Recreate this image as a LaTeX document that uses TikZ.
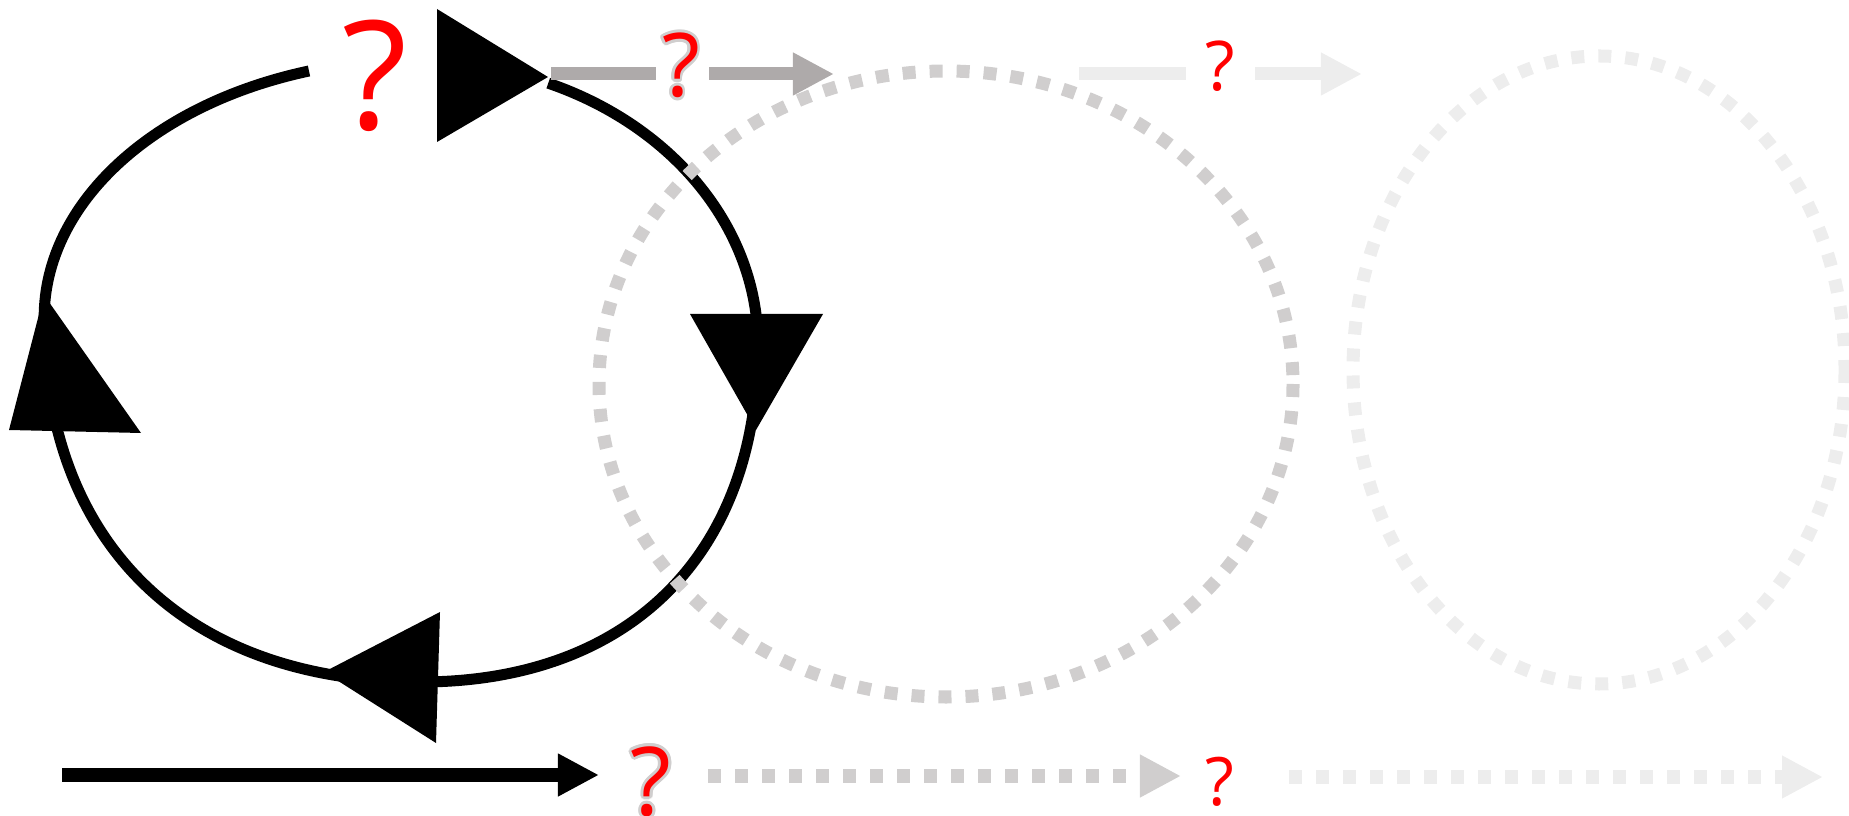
\documentclass[tikz,border=0pt]{standalone}
\usepackage{fontspec}
\newfontfamily\qfont{Open Sans}
\usepackage{xcolor}
\usepackage{contour}
\usetikzlibrary{arrows.meta}
\definecolor{grayA}{HTML}{AEAAAA}
\definecolor{grayB}{HTML}{D0CECE}
\definecolor{grayC}{HTML}{EDEDED}
\contourlength{0.8pt}
\tikzset{
  ring/.style={line width=0.11cm},
  dotring/.style={line width=0.13cm, dash pattern=on 0.13cm off 0.14cm},
  flow/.style={line width=0.13cm, -{Triangle[length=0.41cm,width=0.4cm]}},
  dotflow/.style={flow, dash pattern=on 0.13cm off 0.14cm},
  qmark/.style={text=red, inner sep=0pt, font=\qfont\fontsize{#1}{#1}\selectfont},
}

\begin{document}
\begin{tikzpicture}[x=0.01cm,y=-0.01cm]
  \useasboundingbox (0,0) rectangle (1849,816);
  % black cycle
  \coordinate (r0) at (309,71);
  \draw[ring] (r0) arc[start angle=-107.2, end angle=-180, x radius=376, y radius=258]
    .. controls (44,544) and (187,682) .. (420,682)
    .. controls (630,682) and (758,554) .. (758,345)
    arc[start angle=0, end angle=-67.7, x radius=338, y radius=283];
  \fill (437,9) -- (437,142) -- (548,77) -- cycle;
  \fill (690,314) -- (823,314) -- (756,430) -- cycle;
  \fill (440,612) -- (436,743) -- (324,672) -- cycle;
  \fill (9,430) -- (141,433) -- (44,295) -- cycle;
  \node[qmark=43] (q0) at (375,76) {?};
  % next cycles
  \draw[dotring, grayB] (946,384) ellipse[x radius=347, y radius=313];
  \draw[dotring, grayC] (1599,370) ellipse[x radius=246, y radius=314];
  % top arrows
  \coordinate (t1) at (551,74); \coordinate (t2) at (656,74);
  \coordinate (t3) at (709,74); \coordinate (t4) at (834,74);
  \node[qmark=25] (q1) at (681,67) {\contour{grayB}{?}};
  \draw[line width=0.13cm, grayA] (t1) -- (t2);
  \draw[flow, grayA] (t3) -- (t4);
  \coordinate (u1) at (1079,74); \coordinate (u2) at (1186,74);
  \coordinate (u3) at (1255,74); \coordinate (u4) at (1362,74);
  \node[qmark=19.5] (q2) at (1220,66) {?};
  \draw[line width=0.13cm, grayC] (u1) -- (u2);
  \draw[flow, grayC] (u3) -- (u4);
  % bottom line
  \coordinate (b1) at (62,775); \coordinate (b2) at (599,775);
  \coordinate (b3) at (708,776); \coordinate (b4) at (1181,776);
  \coordinate (b5) at (1289,777); \coordinate (b6) at (1823,777);
  \draw[flow] (b1) -- (b2);
  \node[qmark=27] (q3) at (651,783) {\contour{grayB}{?}};
  \draw[dotflow, grayB] (b3) -- (b4);
  \node[qmark=19] (q4) at (1220,782) {?};
  \draw[dotflow, grayC] (b5) -- (b6);
\end{tikzpicture}
\end{document}
